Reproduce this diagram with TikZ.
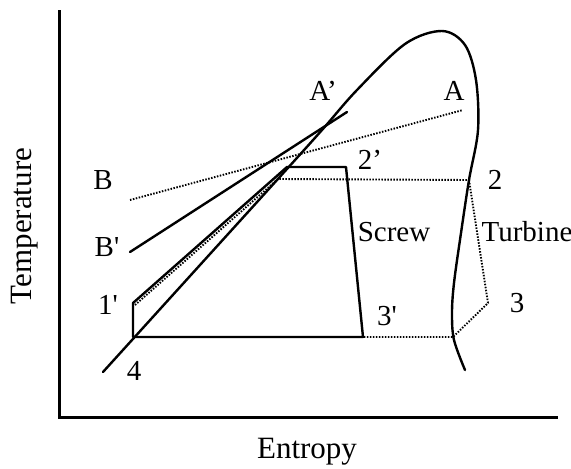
\documentclass[tikz,border=0pt]{standalone}
\usepackage{fontspec}
\setmainfont{Liberation Serif}
\begin{document}
\begin{tikzpicture}[x=1pt,y=-1pt,
  lab/.style={font=\fontsize{29}{34}\selectfont, inner sep=0pt},
  axlab/.style={font=\fontsize{31}{36}\selectfont, inner sep=0pt},
  axisline/.style={line width=3pt, line join=miter},
  solidline/.style={line width=2.4pt, line join=round, line cap=round},
  dotline/.style={line width=1.9pt, dash pattern=on 1.5pt off 1.5pt}]
\useasboundingbox (0,0) rectangle (571,469);
% axes
\coordinate (ytop) at (59,10);
\coordinate (orig) at (59,417);
\coordinate (xend) at (558,417);
\draw[axisline] (ytop) -- (orig) -- (xend);
\node[axlab] (xlab) at (307,452) {Entropy};
\node[axlab, rotate=90] (ylab) at (25,226) {Temperature};
% saturation dome
\draw[solidline] plot[smooth, tension=0.55] coordinates {(103,372) (200,265) (277,180) (322,130) (357,90) (405,44) (442,31) (465,45) (476,80) (478,130) (469,180) (461,233) (454,283) (452,313) (454,340) (465,370)};
% cycle points
\coordinate (p4) at (133,337);
\coordinate (p1) at (133,303);
\coordinate (p2a) at (287,167);
\coordinate (p2b) at (346,167);
\coordinate (p3p) at (363,337);
\coordinate (p2) at (469,180);
\coordinate (p2d) at (278,179);
\coordinate (p3) at (488,303);
\coordinate (p3s) at (453,337);
\coordinate (p4d) at (135,305);
\coordinate (Bs) at (130,200);
\coordinate (Be) at (463,110);
\coordinate (Bps) at (130,252);
\coordinate (Bpe) at (347,112);
% screw cycle
\draw[solidline] (p4) -- (p1) -- (p2a) -- (p2b) -- (p3p) -- cycle;
% B' line
\draw[solidline] (Bps) -- (Bpe);
% dotted lines
\draw[dotline] (Bs) -- (Be);
\draw[dotline] (p4d) -- (p2d) -- (p2);
\draw[dotline] (p2) -- (p3) -- (p3s) -- (p3p);
% labels
\node[lab] (lApr) at (323,91) {A’};
\node[lab] (lA) at (454,91) {A};
\node[lab] (l2pr) at (370,160) {2’};
\node[lab] (lB) at (103,180) {B};
\node[lab] (l2) at (495,180) {2};
\node[lab] (lBpr) at (107,247) {B\textquotesingle};
\node[lab] (lScrew) at (394,232) {Screw};
\node[lab] (lTurb) at (527,232) {Turbine};
\node[lab] (l1pr) at (108,305) {1\textquotesingle};
\node[lab] (l3pr) at (387,316) {3\textquotesingle};
\node[lab] (l3) at (517,303) {3};
\node[lab] (l4) at (134,371) {4};
\end{tikzpicture}
\end{document}
